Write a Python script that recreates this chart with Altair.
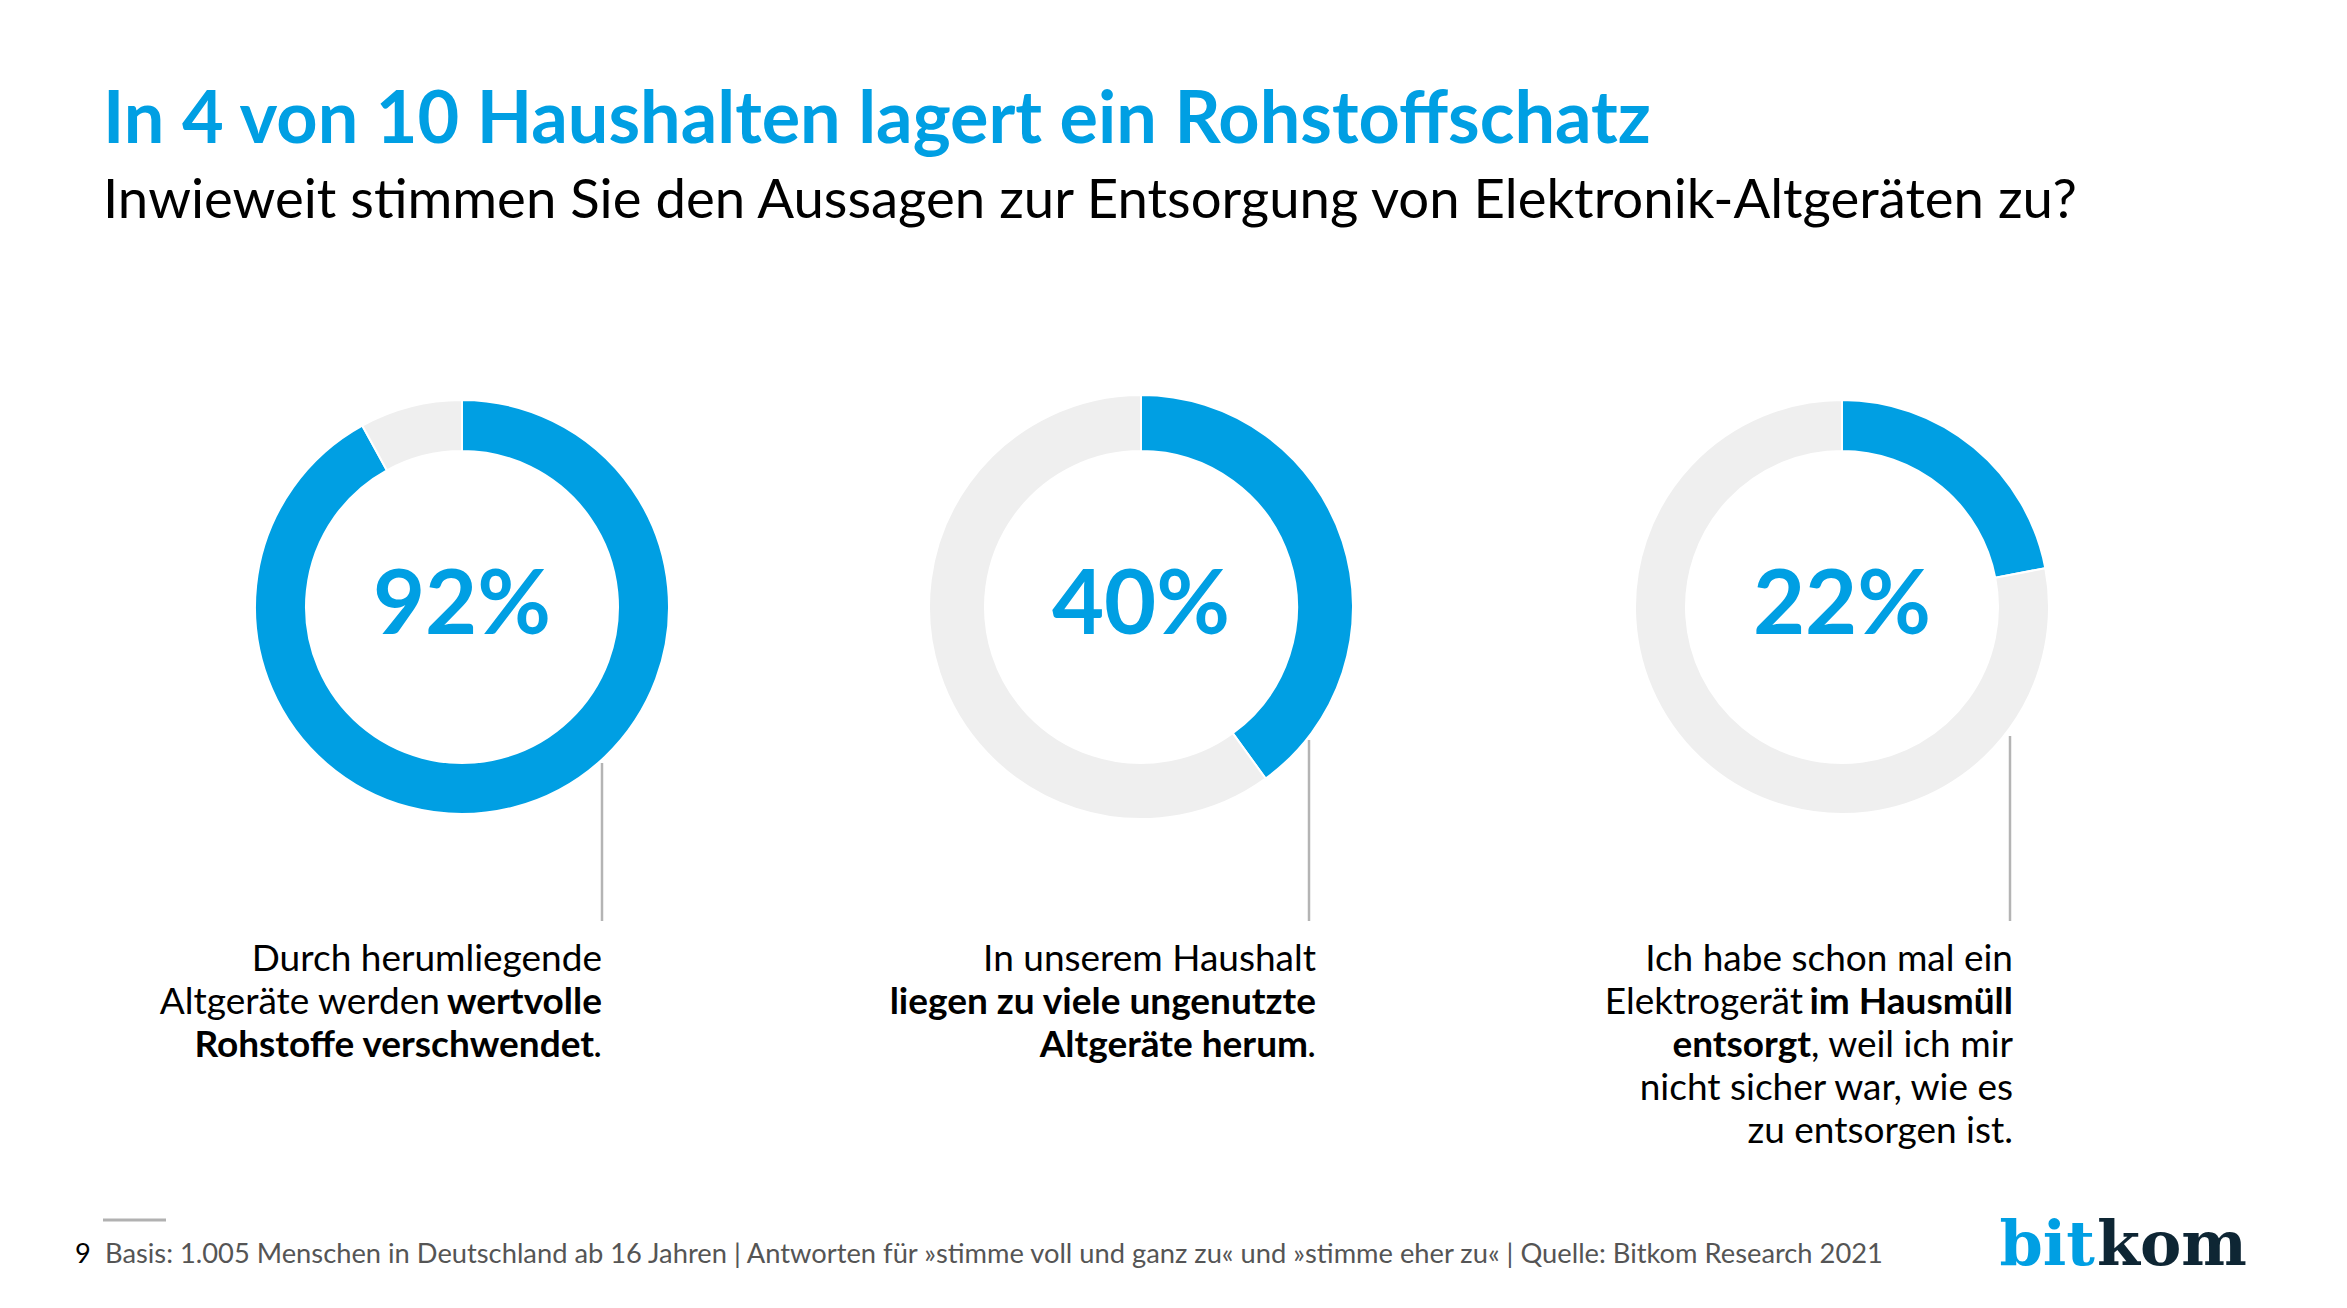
import altair as alt
import pandas as pd

BLUE = "#009FE3"
RING_GREY = "#EFEFEF"
LINE_GREY = "#B4B4B4"
FONT = "Lato"

# ---------------- data ----------------
title_text = "In 4 von 10 Haushalten lagert ein Rohstoffschatz"
subtitle_text = "Inwieweit stimmen Sie den Aussagen zur Entsorgung von Elektronik-Altgeräten zu?"
statement_ids = ["A", "B", "C"]
agree_share = [92, 40, 22]
percent_labels = ["92%", "40%", "22%"]
statement_lines = [
    [
        [("Durch herumliegende", "normal")],
        [("Altgeräte werden", "normal"), ("wertvolle", "bold")],
        [("Rohstoffe verschwendet", "bold"), (".", "normal")],
    ],
    [
        [("In unserem Haushalt", "normal")],
        [("liegen zu viele ungenutzte", "bold")],
        [("Altgeräte herum", "bold"), (".", "normal")],
    ],
    [
        [("Ich habe schon mal ein", "normal")],
        [("Elektrogerät", "normal"), ("im Hausmüll", "bold")],
        [("entsorgt", "bold"), (", weil ich mir", "normal")],
        [("nicht sicher war, wie es", "normal")],
        [("zu entsorgen ist.", "normal")],
    ],
]
footer_page = "9"
footer_text = ("Basis: 1.005 Menschen in Deutschland ab 16 Jahren | Antworten für "
               "»stimme voll und ganz zu« und »stimme eher zu« | Quelle: Bitkom Research 2021")
logo_parts = ["bit", "kom"]

# ---------------- layout (styling only) ----------------
W, H = 2347, 1308
donut_cx = [462, 1141, 1842]
donut_cy = 607
donut_outer = [207, 212, 207]
donut_inner = 156
text_right = [602, 1316, 2013]
leader_x = [602, 1309, 2010]
leader_top = [763, 740, 736]
leader_bottom = 921
line_baselines = [971, 1014, 1057, 1100, 1143]
desc_size = 37
# right-edge offsets for segments that are followed by another segment on the same line
seg_offsets = {
    (0, 1, 0): 162,
    (0, 2, 0): 8,
    (1, 2, 0): 8,
    (2, 1, 0): 210,
    (2, 2, 0): 202,
}


def text_layer(text, x, y, size, weight="normal", color="#000000", align="left", font=FONT):
    return alt.Chart(alt.Data(values=[{"t": text}])).mark_text(
        align=align, baseline="alphabetic", font=font, fontSize=size,
        fontWeight=weight, color=color
    ).encode(text="t:N", x=alt.value(x), y=alt.value(y))


layers = []

# donuts
for i, sid in enumerate(statement_ids):
    df = pd.DataFrame({
        "statement": [sid, sid],
        "part": ["stimme zu", "sonstige"],
        "value": [agree_share[i], 100 - agree_share[i]],
        "ord": [0, 1],
    })
    layers.append(
        alt.Chart(df).mark_arc(
            outerRadius=donut_outer[i], innerRadius=donut_inner,
            stroke="white", strokeWidth=2
        ).encode(
            theta=alt.Theta("value:Q", stack=True),
            color=alt.Color("part:N",
                            scale=alt.Scale(domain=["stimme zu", "sonstige"],
                                            range=[BLUE, RING_GREY]),
                            legend=None),
            order=alt.Order("ord:Q"),
            x=alt.value(donut_cx[i]),
            y=alt.value(donut_cy),
        )
    )
    # percentage label
    layers.append(text_layer(percent_labels[i], donut_cx[i], 634, 90,
                             weight="bold", color=BLUE, align="center"))
    # leader line
    layers.append(
        alt.Chart(alt.Data(values=[{}])).mark_rule(color=LINE_GREY, strokeWidth=2.5).encode(
            x=alt.value(leader_x[i]), y=alt.value(leader_top[i]), y2=alt.value(leader_bottom)
        )
    )
    # statement text
    for li, segs in enumerate(statement_lines[i]):
        for si, (txt, wt) in enumerate(segs):
            off = seg_offsets.get((i, li, si), 0)
            layers.append(text_layer(txt, text_right[i] - off, line_baselines[li],
                                     desc_size, weight=wt, align="right"))

# title / subtitle
layers.append(text_layer(title_text, 103, 143, 72, weight="bold", color=BLUE))
layers.append(text_layer(subtitle_text, 103, 218, 54.5, weight="normal", color="#000000"))

# footer
layers.append(
    alt.Chart(alt.Data(values=[{}])).mark_rule(color="#B1B1B1", strokeWidth=3).encode(
        x=alt.value(103), x2=alt.value(166), y=alt.value(1220)
    )
)
layers.append(text_layer(footer_page, 75, 1263, 27.3, color="#000000"))
layers.append(text_layer(footer_text, 105, 1263, 27.3, color="#555555"))

# logo
layers.append(text_layer(logo_parts[0], 2095, 1265, 62, weight="bold", color=BLUE,
                         align="right", font="DejaVu Serif"))
layers.append(text_layer(logo_parts[1], 2097, 1265, 62, weight="bold", color="#0E2634",
                         align="left", font="DejaVu Serif"))

chart = alt.layer(*layers).properties(
    width=W, height=H,
    autosize=alt.AutoSizeParams(type="none"),
    padding=0,
    background="white",
).configure_view(stroke=None)

chart.save("out.html", embed_options={"renderer": "svg", "actions": False})
